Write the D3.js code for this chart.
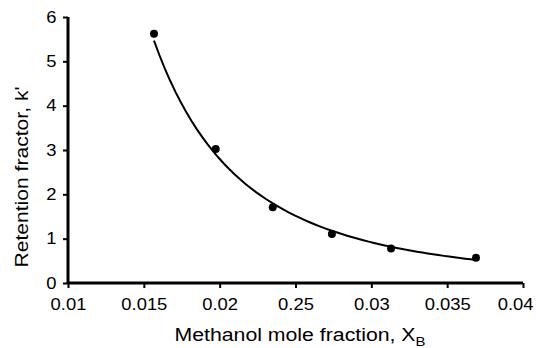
<!DOCTYPE html>
<html>
<head>
<meta charset="utf-8">
<script src="https://cdn.jsdelivr.net/npm/d3@7"></script>
<style>
  body { margin: 0; background: #fff; }
  svg text { font-family: "Liberation Sans", Arial, sans-serif; fill: #000; }
</style>
</head>
<body>
<svg class="chart" width="536" height="348"></svg>
<script>
// measured points (methanol mole fraction vs retention factor)
var xValues = [0.01567, 0.01974, 0.0235, 0.0274, 0.0313, 0.0369];
var kValues = [5.62, 3.02, 1.71, 1.105, 0.78, 0.57];

// tick values and their printed labels (the original has "0.25" for 0.025)
var xTicks = [0.01, 0.015, 0.02, 0.025, 0.03, 0.035, 0.04];
var xTickLabels = ["0.01", "0.015", "0.02", "0.25", "0.03", "0.035", "0.04"];
var yTicks = [0, 1, 2, 3, 4, 5, 6];

var svg = d3.select('svg.chart');
var padding = {t: 17, r: 13, b: 65, l: 68};
var chartWidth = +svg.attr('width') - padding.l - padding.r;
var chartHeight = +svg.attr('height') - padding.t - padding.b;

// the source picture is a little stretched sideways
var stretch = 'scale(1.15,1)';

var xScale = d3.scaleLinear().domain([0.01, 0.04]).range([0, chartWidth]);
var yScale = d3.scaleLinear().domain([0, 6]).range([chartHeight, 0]);

var chartG = svg.append('g')
    .attr('transform', 'translate(' + [padding.l, padding.t] + ')');

// power trendline fitted to the points (like the spreadsheet trendline)
var lx = xValues.map(Math.log), ly = kValues.map(Math.log);
var mx = d3.mean(lx), my = d3.mean(ly);
var b = d3.sum(lx, function(v, i) { return (v - mx) * (ly[i] - my); }) /
        d3.sum(lx, function(v) { return (v - mx) * (v - mx); });
var a = Math.exp(my - b * mx);
var xs = d3.range(61).map(function(i) {
  return xValues[0] + (xValues[xValues.length - 1] - xValues[0]) * i / 60;
});

var line = d3.line()
    .x(function(d) { return xScale(d); })
    .y(function(d) { return yScale(a * Math.pow(d, b)); });

chartG.append('path')
    .datum(xs)
    .attr('d', line)
    .attr('fill', 'none')
    .attr('stroke', '#000')
    .attr('stroke-width', 2);

chartG.selectAll('.dot')
    .data(xValues)
    .enter().append('circle')
    .attr('class', 'dot')
    .attr('cx', function(d) { return xScale(d); })
    .attr('cy', function(d, i) { return yScale(kValues[i]); })
    .attr('r', 4)
    .attr('fill', '#000');

// axes
var xAxis = d3.axisBottom(xScale)
    .tickValues(xTicks)
    .tickSize(5)
    .tickPadding(11)
    .tickFormat(function(d, i) { return xTickLabels[i]; });
var yAxis = d3.axisLeft(yScale)
    .tickValues(yTicks)
    .tickSize(5)
    .tickPadding(5)
    .tickFormat(d3.format('d'));

var xAxisG = chartG.append('g')
    .attr('transform', 'translate(' + [0, chartHeight] + ')')
    .call(xAxis);
var yAxisG = chartG.append('g').call(yAxis);

[xAxisG, yAxisG].forEach(function(g) {
  g.select('.domain').attr('stroke', '#000').attr('stroke-width', 3);
  g.selectAll('.tick line').attr('stroke', '#000').attr('stroke-width', 2);
  g.selectAll('.tick text').attr('font-size', 16)
      .attr('transform', stretch)
      .style('font-family', '"Liberation Sans", Arial, sans-serif');
  g.attr('font-family', null).attr('font-size', null);
});
xAxisG.select('.domain').attr('d', 'M0,0H' + chartWidth);
yAxisG.select('.domain').attr('d', 'M0,0V' + chartHeight);

// last x label is pulled inside the edge, as in the original
xAxisG.selectAll('.tick text')
    .filter(function(d) { return d === 0.04; })
    .attr('text-anchor', 'end')
    .attr('transform', 'translate(10,0) ' + stretch);

// axis titles
var xTitle = svg.append('text')
    .attr('transform', 'translate(300,341) ' + stretch)
    .attr('text-anchor', 'middle')
    .attr('font-size', 18.5)
    .text('Methanol mole fraction, X');
xTitle.append('tspan')
    .attr('font-size', 13)
    .attr('dy', 5)
    .text('B');

svg.append('text')
    .attr('transform', 'translate(28,177) rotate(-90) scale(1.14,1)')
    .attr('text-anchor', 'middle')
    .attr('font-size', 18.5)
    .text("Retention fractor, k'");
</script>
</body>
</html>
